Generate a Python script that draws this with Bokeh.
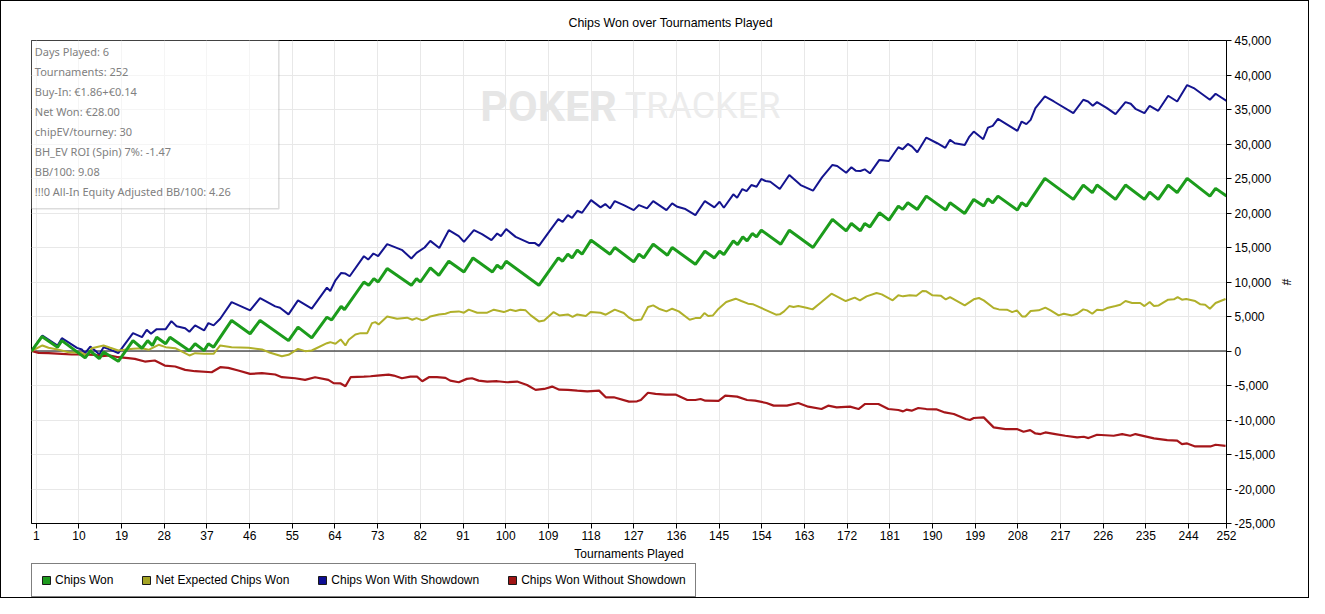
from bokeh.plotting import figure
from bokeh.layouts import column
from bokeh.models import (Range1d, FixedTicker, NumeralTickFormatter, Span, Label,
                          BoxAnnotation, Legend, LegendItem)
from bokeh.embed import file_html
from bokeh.resources import INLINE

# ---------------- data ----------------
title_text = "Chips Won over Tournaments Played"
x_axis_label = "Tournaments Played"
y_axis_label = "#"

series_names = ["Chips Won", "Net Expected Chips Won",
                "Chips Won With Showdown", "Chips Won Without Showdown"]

chips_won_t = [0, 2.2, 5.5, 6.4, 11.3, 12.4, 14.3, 15.2, 18.3, 21.4, 23.3, 24.5, 25.5, 26.4, 28.3, 29.2,
               33.3, 34.5, 36.4, 37.3, 38.4, 42.2, 46.1, 48.2, 54.2, 56.2, 59.1, 62.3, 63.3, 65.3, 66.0,
               70.1, 71.1, 72.2, 73.1, 75.0, 80.1, 81.2, 82.0, 84.1, 85.9, 88.0, 91.2, 93.1, 97.2, 98.2,
               99.1, 100.1, 107.0, 111.1, 112.0, 113.1, 114.0, 115.1, 116.1, 118.0, 122.0, 123.0, 127.0,
               128.1, 129.1, 131.1, 134.1, 135.1, 140.0, 142.0, 144.0, 145.1, 146.0, 148.0, 148.9, 150.0,
               150.9, 152.0, 152.9, 153.9, 158.0, 159.8, 164.8, 168.9, 171.8, 172.9, 174.8, 175.7, 176.8,
               178.8, 180.8, 182.8, 183.7, 184.8, 186.8, 188.7, 192.8, 193.7, 196.8, 198.7, 200.8, 201.7,
               202.7, 203.8, 207.9, 208.8, 209.8, 213.7, 219.7, 221.8, 223.7, 224.7, 228.6, 230.7, 234.7,
               235.8, 237.6, 239.7, 241.6, 243.7, 248.5, 249.7, 252.0]
chips_won_v = [0, 2100, 550, 1500, -1000, 0, -1100, -150, -1500, 1500, 400, 1500, 800, 2000, 1050, 2000,
               50, 1050, 50, 1050, 550, 4430, 2500, 4430, 1500, 3460, 1900, 4900, 4500, 6470, 5990,
               10000, 9520, 10490, 10000, 11950, 9520, 10490, 10000, 12040, 10970, 13010, 11450, 13490, 11450, 12430,
               11950, 13010, 9520, 13490, 13010, 14030, 13490, 14610, 14030, 16060, 14030, 15000, 12910,
               14030, 13490, 15480, 13880, 15000, 12570, 14460, 13490, 14460, 13980, 15960, 15430, 16540,
               15960, 17030, 16540, 17510, 15480, 17510, 15000, 19070, 17410, 18480, 17410, 18480, 17990,
               20030, 18960, 21000, 20520, 21480, 20520, 22450, 20420, 21480, 19940, 21970, 21000, 22060,
               21480, 22450, 20420, 21480, 21000, 25020, 21970, 24050, 22940, 24050, 21970, 24050, 21970,
               23040, 21970, 24050, 22940, 25020, 22450, 23570, 22450]

net_expected_t = [0, 2.3, 3.6, 5.5, 7.8, 10.6, 11.7, 12.7, 15.2, 16.6, 18.3, 21.4, 23.3, 24.7, 26.8, 28.3,
                  30.3, 33.3, 34.5, 36.4, 38.4, 39.8, 42.2, 45.8, 48.6, 50.0, 52.8, 54.2, 56.2, 57.7, 59.1,
                  62.3, 63.0, 64.1, 65.2, 66.2, 66.9, 68.3, 69.4, 70.8, 71.8, 72.5, 73.2, 75.0, 77.1, 79.2,
                  80.3, 81.2, 82.4, 83.4, 84.1, 85.9, 87.3, 88.3, 90.1, 91.2, 92.2, 94.0, 96.1, 97.5, 99.6,
                  101.0, 102.1, 103.1, 104.2, 105.3, 107.0, 108.1, 110.1, 111.3, 113.1, 114.1, 115.1, 116.9,
                  117.9, 120.0, 121.1, 123.0, 124.9, 126.0, 127.0, 128.6, 130.0, 131.1, 132.3, 133.9, 135.1,
                  136.5, 138.8, 140.0, 141.0, 141.9, 142.7, 143.7, 144.9, 146.5, 148.5, 149.7, 151.1, 152.2,
                  155.0, 157.0, 157.8, 158.7, 159.8, 160.7, 161.7, 163.4, 164.7, 166.6, 168.7, 170.1, 171.7,
                  173.6, 174.7, 176.1, 178.2, 179.3, 181.6, 182.8, 183.8, 185.2, 186.6, 187.9, 188.7, 190.0,
                  191.8, 192.8, 193.7, 196.8, 198.7, 199.8, 200.8, 202.9, 204.0, 205.7, 206.8, 207.8, 208.9,
                  209.6, 210.7, 212.4, 213.8, 214.9, 216.6, 217.7, 219.4, 220.5, 221.8, 222.6, 223.7, 224.7,
                  225.8, 226.8, 228.6, 229.6, 230.7, 232.1, 233.8, 234.7, 235.8, 236.7, 237.7, 239.7, 240.9,
                  241.7, 242.6, 243.5, 245.4, 246.5, 247.5, 248.5, 249.7, 251.8]
net_expected_v = [0, 800, 465, 220, -170, -270, -650, 410, 800, 465, 70, 315, 410, 170, 900, 555,
                  410, -650, -315, -410, -410, 800, 555, 465, 220, -170, -750, -555, 315, -25, 70,
                  1135, 1280, 1040, 1670, 800, 1630, 2400, 2590, 2590, 4040, 4190, 3850, 5010, 4680, 4830,
                  4530, 4770, 4430, 4680, 5010, 5300, 5400, 5640, 5740, 5550, 5990, 5550, 5550, 5990, 5640,
                  5990, 5790, 5990, 5890, 5160, 4290, 4430, 5640, 5160, 5300, 4930, 5300, 5060,
                  5640, 5550, 5260, 5990, 5500, 4830, 4430, 4550, 6370, 6610, 6130, 5740, 6130,
                  5740, 4530, 4770, 4770, 5500, 5060, 5160, 6130, 7100, 7580, 7240, 6860, 6760,
                  5890, 5260, 5310, 5740, 6510, 6370, 6510, 6280, 6030, 7100, 8310, 7820, 7240,
                  7730, 7340, 7920, 8410, 8210, 7340, 8070, 7920, 8070, 8000, 8700, 8650, 8070,
                  7990, 7470, 7820, 6610, 7490, 7680, 7340, 6220, 6030, 5990, 5640, 5890, 5010,
                  5010, 5790, 5890, 6280, 5890, 5160, 5400, 5160, 5400, 6030, 5890, 5400, 5990,
                  5890, 6220, 6510, 6710, 7240, 6950, 6950, 6510, 7100, 6510, 6610, 7440, 7490,
                  7820, 7440, 7540, 7240, 6760, 6710, 6130, 6950, 7540]

with_showdown_t = [0, 2.3, 5.5, 6.4, 9.6, 10.6, 11.3, 12.4, 13.4, 14.3, 15.2, 16.2, 18.3, 21.4, 23.3, 24.3,
                   25.2, 26.4, 28.3, 29.5, 30.6, 32.4, 33.3, 34.5, 36.4, 37.3, 38.4, 39.8, 42.2, 46.1, 48.2,
                   51.4, 52.4, 54.2, 56.2, 59.1, 62.3, 63.0, 64.1, 65.3, 66.2, 67.1, 70.1, 71.0, 72.1, 73.1,
                   75.0, 78.2, 80.1, 81.2, 82.9, 84.1, 86.0, 88.0, 90.1, 91.2, 93.3, 95.0, 97.0, 98.2, 99.0,
                   100.1, 102.1, 104.9, 106.1, 107.0, 109.4, 111.1, 112.0, 113.1, 114.0, 115.1, 116.1, 118.0,
                   120.0, 121.0, 122.0, 123.0, 124.9, 127.0, 128.1, 129.8, 131.1, 133.9, 135.1, 136.2, 137.9,
                   140.0, 142.0, 144.0, 145.1, 146.0, 148.0, 148.8, 149.9, 150.8, 151.8, 152.9, 153.9, 154.8,
                   155.8, 157.8, 159.8, 162.2, 164.8, 166.7, 168.9, 169.9, 171.8, 172.9, 173.8, 174.8, 175.7,
                   176.8, 178.8, 180.8, 182.8, 183.7, 184.8, 185.7, 186.8, 188.7, 191.0, 192.7, 193.7, 194.7,
                   196.8, 197.7, 198.7, 200.7, 201.7, 202.7, 203.8, 207.9, 208.8, 209.8, 210.7, 211.7, 213.7,
                   215.6, 219.7, 221.8, 222.8, 223.8, 224.7, 226.8, 228.6, 230.7, 231.8, 232.8, 234.7, 235.8,
                   237.6, 239.7, 241.6, 243.7, 245.1, 248.5, 249.7, 252.0]
with_showdown_v = [0, 2250, 800, 1860, 460, 220, -320, 650, 70, -510, 550, 320, -320, 2590, 2010, 3080,
                   2500, 3170, 3170, 4330, 3600, 3310, 2790, 3710, 2980, 4040, 3710, 4680, 7090, 5890, 7680,
                   6470, 6280, 5310, 7340, 6130, 9180, 8700, 10250, 11310, 11220, 10830, 13740, 13250, 14130, 13740,
                   15480, 14610, 13400, 14220, 15000, 15960, 14940, 17510, 16640, 15810, 17510, 16930, 16060, 17030, 16640,
                   17660, 16540, 15670, 15670, 15230, 17510, 19110, 18720, 19700, 19300, 20320, 20030, 21870,
                   20810, 21290, 20670, 21730, 21150, 20420, 21150, 20670, 21730, 20420, 21390, 20900, 20570,
                   19700, 21730, 20810, 21630, 20760, 22700, 22210, 23470, 23180, 24050, 23810, 24930, 24640,
                   24540, 23470, 25510, 24050, 23230, 25170, 26960, 26820, 25840, 26630, 26140, 26090, 26330,
                   25750, 27690, 27540, 29530, 29240, 30010, 29620, 28810, 30930, 30110, 29450, 30600, 30110,
                   29870, 30990, 31800, 30700, 32380, 32630, 33650, 31900, 33260, 32880, 33500, 35200, 36890,
                   36160, 34480, 36410, 36160, 35540, 36070, 35200, 34330, 36070, 35830, 35100, 34480, 35540,
                   34810, 36990, 36160, 38540, 38110, 36410, 37280, 36260]

without_showdown_t = [0, 1.5, 3.6, 6.4, 8.5, 10.6, 13.4, 14.8, 16.6, 18.3, 20.4, 21.8, 23.9, 26.0, 28.1, 30.3,
                      32.4, 34.5, 38.0, 39.8, 41.5, 43.6, 46.1, 48.6, 51.4, 52.8, 55.6, 57.7, 59.8, 62.6, 63.7,
                      65.2, 66.2, 67.3, 70.1, 71.5, 72.9, 75.3, 76.4, 78.1, 79.9, 81.3, 82.4, 83.8, 85.5, 87.3,
                      88.3, 90.1, 91.8, 92.9, 94.3, 96.1, 98.2, 100.3, 102.4, 104.5, 106.3, 108.1, 109.8, 111.3,
                      113.1, 115.1, 117.2, 119.7, 121.1, 122.8, 126.0, 127.7, 128.5, 130.0, 131.6, 133.7, 135.8,
                      138.3, 140.0, 141.1, 142.1, 144.9, 146.3, 148.8, 150.9, 152.6, 155.0, 156.5, 159.3, 161.7,
                      163.8, 166.6, 168.0, 169.8, 172.6, 174.4, 175.8, 178.6, 180.7, 182.8, 183.8, 184.5, 185.6,
                      187.0, 188.7, 190.8, 192.6, 194.5, 197.0, 197.9, 198.7, 200.8, 202.9, 205.4, 207.8, 209.2,
                      210.6, 211.7, 212.8, 213.8, 215.9, 218.0, 220.5, 221.9, 222.9, 224.7, 228.2, 230.0, 231.7,
                      232.8, 236.7, 239.5, 241.6, 242.6, 243.7, 245.4, 248.6, 249.7, 251.8]
without_showdown_v = [0, -265, -315, -410, -510, -510, -555, -750, -650, -900, -1040, -1135, -1530, -1380, -2110, -2250,
                      -2740, -2930, -3080, -2350, -2450, -2830, -3320, -3220, -3410, -3800, -3950, -4190, -3800, -4190, -4650,
                      -4700, -5100, -3800, -3710, -3660, -3560, -3420, -3560, -3950, -3710, -3710, -4380, -3800, -3800, -3900,
                      -4290, -4530, -4040, -3950, -4290, -4430, -4380, -4530, -4430, -4920, -5640, -5500, -5160, -5600,
                      -5640, -5740, -5840, -5740, -6710, -6710, -7340, -7290, -7100, -6050, -6220, -6320, -6320,
                      -7100, -7100, -6950, -7200, -7240, -6470, -6610, -7100, -7200, -7530, -7920, -7920, -7530,
                      -8070, -8410, -7920, -8160, -8070, -8410, -7680, -7680, -8410, -8550, -8750, -8500, -8650,
                      -8260, -8410, -8450, -8900, -9130, -9860, -10000, -9710, -9620, -11070, -11310, -11310, -11700,
                      -11460, -11950, -12040, -11800, -12040, -12280, -12530, -12430, -12620, -12140, -12280, -12040, -12280,
                      -12040, -12670, -12910, -13000, -13490, -13400, -13830, -13830, -13590, -13740]

x_tick_values = [1, 10, 19, 28, 37, 46, 55, 64, 73, 82, 91, 100, 109, 118, 127, 136, 145, 154,
                 163, 172, 181, 190, 199, 208, 217, 226, 235, 244, 252]
y_tick_values = [-25000, -20000, -15000, -10000, -5000, 0, 5000, 10000, 15000, 20000,
                 25000, 30000, 35000, 40000, 45000]

stats_lines = ["Days Played: 6", "Tournaments: 252", "Buy-In: \u20ac1.86+\u20ac0.14", "Net Won: \u20ac28.00",
               "chipEV/tourney: 30", "BH_EV ROI (Spin) 7%: -1.47", "BB/100: 9.08",
               "!!!0 All-In Equity Adjusted BB/100: 4.26"]

# ---------------- layout ----------------
# Positions below are given in reference-picture pixels; the figures start 1px
# inside a 1px css border (OFF).
OFF = 1
W = 1307
H1, H2 = 562, 34
FL, FR, FT, FB = 31, 1226, 40, 523           # frame edges in reference pixels
X0, X1 = 0, 252
Y0, Y1 = -25000, 45000


def dx(px):
    return X0 + (px - FL) / (FR - FL) * (X1 - X0)


def dy(py):
    return Y1 - (py - FT) / (FB - FT) * (Y1 - Y0)


FONT = "Liberation Sans"

p = figure(width=W, height=H1, x_range=Range1d(X0, X1), y_range=Range1d(Y0, Y1),
           y_axis_location="right", output_backend="svg", toolbar_location=None,
           min_border_left=FL - OFF, min_border_right=W - (FR - OFF),
           min_border_top=FT - OFF, min_border_bottom=H1 - (FB - OFF))
p.background_fill_color = "white"
p.border_fill_color = "white"
p.outline_line_color = "black"
p.outline_line_width = 1
p.outline_line_alpha = 1

# title
p.title.text = title_text
p.title.align = "left"
p.title.offset = 568 - FL
p.title.text_font = FONT
p.title.text_font_size = "12.4px"
p.title.text_font_style = "normal"
p.title.text_color = "black"
p.title.standoff = 21

# axes
for ax in (p.xaxis[0], p.yaxis[0]):
    ax.axis_line_color = "black"
    ax.major_tick_line_color = "black"
    ax.major_tick_in = 0
    ax.major_tick_out = 5
    ax.minor_tick_in = 0
    ax.minor_tick_out = 0
    ax.major_label_text_font = FONT
    ax.major_label_text_font_size = "12px"
    ax.major_label_text_color = "black"
    ax.axis_label_text_font = FONT
    ax.axis_label_text_font_size = "12px"
    ax.axis_label_text_font_style = "normal"
    ax.axis_label_text_color = "black"

p.xaxis.ticker = FixedTicker(ticks=x_tick_values)
p.xaxis.axis_label = x_axis_label
p.xaxis.major_label_standoff = 2
p.xaxis.axis_label_standoff = 4

p.yaxis.ticker = FixedTicker(ticks=y_tick_values)
p.yaxis.formatter = NumeralTickFormatter(format="0,0")
p.yaxis.axis_label = y_axis_label
p.yaxis.major_label_standoff = 3
p.yaxis.axis_label_standoff = 1

p.xgrid.grid_line_color = "#e8e8e8"
p.ygrid.grid_line_color = "#e8e8e8"

# watermark
p.add_layout(Label(x=dx(548), y=dy(105), text="POKER", text_align="center", text_baseline="alphabetic",
                   text_font="Roboto", text_font_style="bold", text_font_size="43px",
                   text_color="#e6e6e6", level="underlay"))
p.add_layout(Label(x=dx(702), y=dy(105), text="TRACKER", text_align="center", text_baseline="alphabetic",
                   text_font="Roboto", text_font_size="36px",
                   text_color="#ececec", level="underlay"))

# zero line
p.add_layout(Span(location=0, dimension="width", line_color="black", line_width=1, level="underlay"))

# series
colors = ["#1c9c1c", "#b0b02a", "#14148f", "#a5161a"]
swatch_colors = ["#1e9a1e", "#a4a424", "#0e0e94", "#a01414"]
widths = [3, 2, 2, 2.2]
data = [(chips_won_t, chips_won_v), (net_expected_t, net_expected_v),
        (with_showdown_t, with_showdown_v), (without_showdown_t, without_showdown_v)]

for idx in (2, 3, 1, 0):
    xs, ys = data[idx]
    p.line(xs, ys, line_color=colors[idx], line_width=widths[idx])

# stats box
p.add_layout(BoxAnnotation(left=dx(29.7), right=dx(278.3), top=dy(39.7), bottom=dy(208.3),
                           fill_color="white", fill_alpha=0.55, line_color="#8c8c8c", line_width=1.5))
for i, s in enumerate(stats_lines):
    p.add_layout(Label(x=dx(34.3), y=dy(50.7 + 20 * i), text=s, text_align="left", text_baseline="middle",
                       text_font="Noto Sans", text_font_size="11px", text_color="#808080"))

# ---------------- legend strip ----------------
leg = figure(width=W, height=H2, x_range=Range1d(0, 1), y_range=Range1d(0, 1),
             x_axis_type=None, y_axis_type=None, output_backend="svg", toolbar_location=None,
             min_border=0)
leg.outline_line_color = None
leg.background_fill_color = "white"
leg.border_fill_color = "white"
items = []
for name, col in zip(series_names, swatch_colors):
    # swatch renderers sit outside the visible range; only their legend glyphs show
    r = leg.quad(left=[5], right=[6], top=[6], bottom=[5], fill_color=col, line_color="#1a1a1a", line_width=1)
    items.append(LegendItem(label=name, renderers=[r]))
# the strip's frame is aligned with the main frame by the column layout
legend = Legend(items=items, orientation="horizontal", location=(0, 0),
                glyph_width=10, glyph_height=10, label_standoff=4, spacing=28, padding=9, margin=0,
                border_line_color="black", border_line_width=1, background_fill_color="white",
                background_fill_alpha=1, label_text_font=FONT, label_text_font_size="12px",
                label_text_color="black", label_height=14)
leg.add_layout(legend)

layout = column(p, leg, spacing=0)
layout.styles = {"border": "1px solid black", "box-sizing": "content-box"}

open("out.html", "w").write(file_html(layout, INLINE))
